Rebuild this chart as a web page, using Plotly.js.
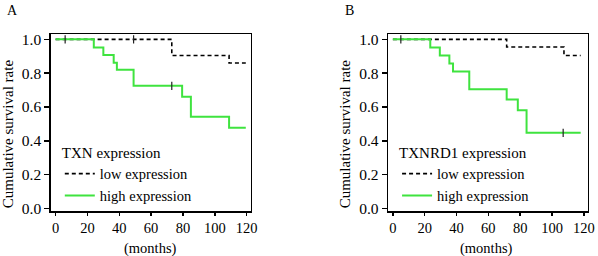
<!DOCTYPE html>
<html>
<head>
<meta charset="utf-8">
<script src="https://cdn.plot.ly/plotly-3.0.1.min.js"></script>
<style>html,body{margin:0;padding:0;background:#fff;}#chart{width:598px;height:256px;}</style>
</head>
<body>
<div id="chart"></div>
<script>
// ---- Data ----
const xTicks = [0, 20, 40, 60, 80, 100, 120];
const yTicks = [0.0, 0.2, 0.4, 0.6, 0.8, 1.0];

// Panel A: TXN
const txnLowTime  = [0, 73, 109, 119.5];
const txnLowSurv  = [1.0, 0.905, 0.86, 0.86];
const txnLowCensor = [6, 49];
const txnHighTime = [0, 24, 30, 36.5, 38.5, 49, 79.5, 85, 109, 119.5];
const txnHighSurv = [1.0, 0.952, 0.908, 0.862, 0.82, 0.725, 0.66, 0.542, 0.477, 0.477];
const txnHighCensor = [73];

// Panel B: TXNRD1
const rdLowTime  = [0, 71.5, 107.5, 118];
const rdLowSurv  = [1.0, 0.955, 0.905, 0.905];
const rdLowCensor = [5];
const rdHighTime = [0, 23.5, 29.5, 35.5, 37.8, 48, 71.5, 78.5, 84, 118];
const rdHighSurv = [1.0, 0.952, 0.904, 0.857, 0.81, 0.705, 0.645, 0.58, 0.447, 0.447];
const rdHighCensor = [107];

const legendTitles = ["TXN expression", "TXNRD1 expression"];
const seriesNames = ["low expression", "high expression"];
const panelLabels = ["A", "B"];
const xTitle = "(months)";
const yTitle = "Cumulative survival rate";

// ---- helpers ----
function stepAt(times, surv, t) {
  let v = surv[0];
  for (let i = 0; i < times.length; i++) { if (times[i] <= t) v = surv[i]; }
  return v;
}
const FONT = '"Liberation Serif", "Times New Roman", Times, serif';
const GREEN = "#3fe33f";

function curve(times, surv, name, color, dash, xa, ya, leg) {
  return {x: times, y: surv, type: "scatter", mode: "lines", name: name,
    line: {shape: "hv", color: color, width: dash ? 1.6 : 2, dash: dash || "solid"},
    xaxis: xa, yaxis: ya, legend: leg, hoverinfo: "skip"};
}
function censor(times, stepT, stepS, xa, ya) {
  return {x: times, y: times.map(t => stepAt(stepT, stepS, t)), type: "scatter", mode: "markers",
    marker: {symbol: "line-ns-open", size: 6, color: "#222", line: {color: "#222", width: 1.2}},
    showlegend: false, xaxis: xa, yaxis: ya, hoverinfo: "skip"};
}

const data = [
  curve(txnLowTime, txnLowSurv, seriesNames[0], "#000", "4px,3px", "x", "y", "legend"),
  curve(txnHighTime, txnHighSurv, seriesNames[1], GREEN, null, "x", "y", "legend"),
  censor(txnLowCensor, txnLowTime, txnLowSurv, "x", "y"),
  censor(txnHighCensor, txnHighTime, txnHighSurv, "x", "y"),
  curve(rdLowTime, rdLowSurv, seriesNames[0], "#000", "4px,3px", "x2", "y2", "legend2"),
  curve(rdHighTime, rdHighSurv, seriesNames[1], GREEN, null, "x2", "y2", "legend2"),
  censor(rdLowCensor, rdLowTime, rdLowSurv, "x2", "y2"),
  censor(rdHighCensor, rdHighTime, rdHighSurv, "x2", "y2")
];

function xAxis(domain, anchor) {
  return {domain: domain, anchor: anchor, range: [-3, 122.5], tickvals: xTicks,
    ticks: "outside", ticklen: 3, tickwidth: 1.5, tickcolor: "#000",
    showline: true, mirror: true, linecolor: "#000", linewidth: 1.5,
    showgrid: false, zeroline: false, automargin: false,
    tickfont: {family: FONT, size: 14.5, color: "#000"}};
}
function yAxis(anchor) {
  return {domain: [0.174, 0.866], anchor: anchor, range: [-0.018, 1.03], tickvals: yTicks,
    tickformat: ".1f", ticks: "outside", ticklen: 5, tickwidth: 1.5, tickcolor: "#000",
    showline: true, mirror: true, linecolor: "#000", linewidth: 1.5,
    showgrid: false, zeroline: false, automargin: false,
    tickfont: {family: FONT, size: 15.5, color: "#000"}};
}
function legend(x, title) {
  return {x: x, y: 0.46, xanchor: "left", yanchor: "top", bgcolor: "rgba(0,0,0,0)",
    borderwidth: 0, itemwidth: 30, tracegroupgap: 0,
    font: {family: FONT, size: 14.5, color: "#000"},
    title: {text: title, font: {family: FONT, size: 15, color: "#000"}}};
}
function label(text, x, y, opts) {
  return Object.assign({text: text, xref: "paper", yref: "paper", x: x, y: y, showarrow: false,
    font: {family: FONT, size: 15, color: "#000"}}, opts || {});
}

const layout = {
  width: 598, height: 256, margin: {l: 0, r: 0, t: 0, b: 0},
  paper_bgcolor: "#fff", plot_bgcolor: "#fff", showlegend: true,
  font: {family: FONT, color: "#000"},
  xaxis: xAxis([0.085, 0.419], "y"),
  yaxis: yAxis("x"),
  xaxis2: xAxis([0.649, 0.983], "y2"),
  yaxis2: yAxis("x2"),
  legend: legend(0.1, legendTitles[0]),
  legend2: legend(0.664, legendTitles[1]),
  annotations: [
    label(panelLabels[0], 0.008, 0.995, {xanchor: "left", yanchor: "top", font: {family: FONT, size: 14, color: "#000"}}),
    label(panelLabels[1], 0.573, 0.995, {xanchor: "left", yanchor: "top", font: {family: FONT, size: 14, color: "#000"}}),
    label(xTitle, 0.252, -0.01, {xanchor: "center", yanchor: "bottom", font: {family: FONT, size: 14.5, color: "#000"}}),
    label(xTitle, 0.814, -0.01, {xanchor: "center", yanchor: "bottom", font: {family: FONT, size: 14.5, color: "#000"}}),
    label(yTitle, 0.014, 0.477, {xanchor: "center", yanchor: "middle", textangle: -90}),
    label(yTitle, 0.576, 0.477, {xanchor: "center", yanchor: "middle", textangle: -90})
  ]
};

Plotly.newPlot("chart", data, layout, {displayModeBar: false, staticPlot: true});
</script>
</body>
</html>
